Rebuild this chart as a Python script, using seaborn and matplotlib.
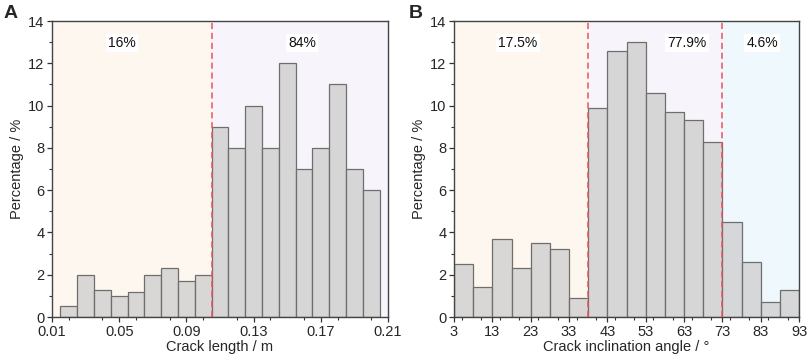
import numpy as np
import pandas as pd
import seaborn as sns
import matplotlib
matplotlib.use("Agg")
import matplotlib.pyplot as plt
from matplotlib.ticker import MultipleLocator

# panel A: crack length histogram (percentage per 0.01 m bin)
length_centers = [0.02, 0.03, 0.04, 0.05, 0.06, 0.07, 0.08, 0.09, 0.10,
                  0.11, 0.12, 0.13, 0.14, 0.15, 0.16, 0.17, 0.18, 0.19, 0.20]
length_pct = [0.5, 2.0, 1.3, 1.0, 1.2, 2.0, 2.3, 1.7, 2.0,
              9.0, 8.0, 10.0, 8.0, 12.0, 7.0, 8.0, 11.0, 7.0, 6.0]
length_split = [0.105]
length_labels = ["16%", "84%"]
length_ticks = [0.01, 0.05, 0.09, 0.13, 0.17, 0.21]

# panel B: crack inclination angle histogram (percentage per 5 deg bin)
angle_centers = [5.5, 10.5, 15.5, 20.5, 25.5, 30.5, 35.5,
                 40.5, 45.5, 50.5, 55.5, 60.5, 65.5, 70.5,
                 75.5, 80.5, 85.5, 90.5]
angle_pct = [2.5, 1.4, 3.7, 2.3, 3.5, 3.2, 0.9,
             9.9, 12.6, 13.0, 10.6, 9.7, 9.3, 8.3,
             4.5, 2.6, 0.7, 1.3]
angle_split = [38, 73]
angle_labels = ["17.5%", "77.9%", "4.6%"]
angle_ticks = [3, 13, 23, 33, 43, 53, 63, 73, 83, 93]

sns.set_style("ticks")
plt.rcParams['font.family'] = ['Liberation Sans', 'DejaVu Sans']

region_colors = ["#fdf7ef", "#f8f4fb", "#eff8fc"]
bar_face = "#cfcfcf"
bar_edge = "#6e6e6e"

fig = plt.figure(figsize=(8.09, 3.63), dpi=100)
axA = fig.add_axes([0.0643, 0.1267, 0.4153, 0.8154])
axB = fig.add_axes([0.5612, 0.1267, 0.4265, 0.8154])


def draw_panel(ax, centers, pct, bins, xlim, splits, labels, label_x, ticks, minor, xlabel):
    edges = [xlim[0]] + splits + [xlim[1]]
    for i in range(len(edges) - 1):
        ax.axvspan(edges[i], edges[i + 1], color=region_colors[i], zorder=0, lw=0)
    df = pd.DataFrame({"x": centers, "pct": pct})
    sns.histplot(data=df, x="x", weights="pct", bins=list(bins), ax=ax, stat="count",
                 color=bar_face, edgecolor=bar_edge, linewidth=0.9, alpha=0.8, zorder=2)
    for s in splits:
        ax.axvline(s, color="#f0505a", ls=(0, (4, 2.5)), lw=1.1, zorder=3)
    for t, x in zip(labels, label_x):
        ax.text(x, 12.95, t, ha="center", va="center", fontsize=10, color="#111111",
                bbox=dict(facecolor="white", edgecolor="none", pad=1.5), zorder=4)
    ax.set_xlim(*xlim)
    ax.set_ylim(0, 14)
    ax.set_xticks(ticks)
    ax.xaxis.set_minor_locator(MultipleLocator(minor))
    ax.yaxis.set_major_locator(MultipleLocator(2))
    ax.yaxis.set_minor_locator(MultipleLocator(1))
    ax.tick_params(which="major", direction="out", length=3.5, width=0.9, labelsize=10.5,
                   color="#333333", pad=2)
    ax.tick_params(which="minor", direction="out", length=2, width=0.8, color="#333333")
    for sp in ax.spines.values():
        sp.set_visible(True)
        sp.set_color("#444444")
        sp.set_linewidth(1.0)
    ax.set_xlabel(xlabel, fontsize=10.5, labelpad=1)
    ax.set_ylabel("Percentage / %", fontsize=10.5, labelpad=3)


draw_panel(axA, length_centers, length_pct, np.linspace(0.015, 0.205, 20), (0.01, 0.21),
           length_split, length_labels, [0.0517, 0.159], length_ticks, 0.02,
           "Crack length / m")
axA.set_xticklabels(["0.01", "0.05", "0.09", "0.13", "0.17", "0.21"])

draw_panel(axB, angle_centers, angle_pct, np.linspace(3, 93, 19), (3, 93),
           angle_split, angle_labels, [19.7, 63.8, 83.4], angle_ticks, 5,
           "Crack inclination angle / °")

fig.text(0.004, 0.985, "A", fontsize=14, fontweight="bold", va="top", ha="left")
fig.text(0.505, 0.985, "B", fontsize=14, fontweight="bold", va="top", ha="left")

fig.savefig("out.png", dpi=100)
